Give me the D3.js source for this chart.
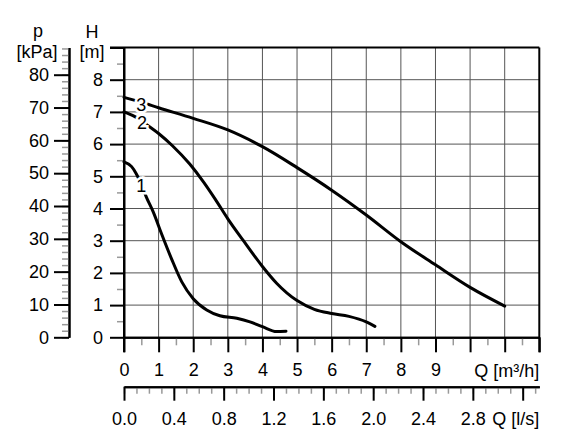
<!DOCTYPE html>
<html>
<head>
<meta charset="utf-8">
<script src="https://cdn.jsdelivr.net/npm/d3@7"></script>
<style>
  body { margin: 0; background: #fff; }
  svg text { font-family: "Liberation Sans", Arial, sans-serif; font-size: 18px; fill: #000; }
</style>
</head>
<body>
<svg id="chart" width="575" height="448"></svg>
<script>
// pump curves, Q in m3/h, H in m
var curve1Q = [0, 0.22, 0.35, 0.5, 0.64, 0.85, 1.09, 1.38, 1.67, 2.0, 2.39, 2.77, 3.26, 3.64, 4.0, 4.41, 4.68];
var curve1H = [5.45, 5.3, 5.09, 4.75, 4.37, 3.88, 3.2, 2.42, 1.72, 1.2, 0.85, 0.67, 0.59, 0.48, 0.33, 0.18, 0.19];
var curve2Q = [0, 0.3, 0.66, 1.0, 1.4, 1.9, 2.3, 2.63, 3.0, 3.45, 4.0, 4.41, 5.0, 5.5, 6.0, 6.5, 7.0, 7.25];
var curve2H = [7.0, 6.86, 6.6, 6.33, 5.95, 5.38, 4.82, 4.3, 3.68, 3.0, 2.2, 1.68, 1.14, 0.87, 0.74, 0.65, 0.48, 0.34];
var curve3Q = [0, 0.5, 1, 2, 3, 4, 5, 6, 7, 8, 9, 10, 11];
var curve3H = [7.45, 7.3, 7.13, 6.8, 6.44, 5.92, 5.27, 4.57, 3.80, 2.97, 2.25, 1.55, 0.97];
var curveNames = ["1", "2", "3"];
var labelQ = [0.5, 0.52, 0.5];
var labelH = [4.72, 6.65, 7.22];

var qTicks = d3.range(0, 13);          // m3/h
var qLabels = d3.range(0, 10);
var lsTicks = d3.range(0, 9).map(function(i) { return i * 0.4; });  // l/s
var lsLabels = d3.range(0, 8).map(function(i) { return i * 0.4; });
var hTicks = d3.range(0, 10);          // m
var hLabels = d3.range(0, 9);
var pTicks = d3.range(0, 90, 10);      // kPa

var svg = d3.select("#chart");

var pLeft = 124, pRight = 539.3, pTop = 47.5, pBottom = 337.3;
var x = d3.scaleLinear().domain([0, 12]).range([pLeft, pRight]);
var xl = d3.scaleLinear().domain([0, 12 / 3.6]).range([pLeft, pRight]);
var y = d3.scaleLinear().domain([0, 9]).range([pBottom, pTop]);
var yp = d3.scaleLinear().domain([0, 9 * 9.81]).range([pBottom, pTop]);

svg.append("rect").attr("width", 575).attr("height", 448).attr("fill", "#fff");

// grid
var grid = svg.append("g").attr("stroke", "#555").attr("stroke-width", 1);
grid.selectAll(".gx").data(d3.range(1, 12)).enter().append("line")
    .attr("x1", function(d) { return x(d); }).attr("x2", function(d) { return x(d); })
    .attr("y1", pTop).attr("y2", pBottom);
grid.selectAll(".gy").data(d3.range(1, 9)).enter().append("line")
    .attr("x1", pLeft).attr("x2", pRight)
    .attr("y1", function(d) { return y(d); }).attr("y2", function(d) { return y(d); });

// frame top / right
svg.append("line").attr("x1", pLeft - 14).attr("x2", pRight).attr("y1", pTop).attr("y2", pTop)
    .attr("stroke", "#000").attr("stroke-width", 2);
svg.append("line").attr("x1", pRight).attr("x2", pRight).attr("y1", pTop).attr("y2", pBottom + 15)
    .attr("stroke", "#000").attr("stroke-width", 2);

function styleAxis(g, col, w) {
  g.select(".domain").attr("stroke", "#000").attr("stroke-width", 2);
  g.selectAll(".tick line").attr("stroke", col).attr("stroke-width", w);
  g.attr("font-size", null).attr("font-family", null);
}

// Q m3/h axis
var gq = svg.append("g").attr("transform", "translate(0," + pBottom + ")");
gq.call(d3.axisBottom(x).tickValues(d3.range(0.5, 12, 1)).tickSize(8).tickSizeOuter(0).tickFormat(""));
styleAxis(gq, "#999", 1.5);
var gq2 = svg.append("g").attr("transform", "translate(0," + pBottom + ")");
gq2.call(d3.axisBottom(x).tickValues(qTicks).tickSize(15).tickSizeOuter(0)
    .tickFormat(function(d) { return qLabels.indexOf(d) >= 0 ? d : ""; }));
styleAxis(gq2, "#000", 2);
gq2.selectAll(".tick text").attr("y", 26).attr("dy", "0.71em");
svg.append("text").attr("x", pRight).attr("y", 376.5).attr("text-anchor", "end").text("Q [m³/h]");

// Q l/s axis
var lsY = 386.7;
var gl = svg.append("g").attr("transform", "translate(0," + lsY + ")");
gl.call(d3.axisBottom(xl).tickValues(d3.range(0, 34).map(function(i) { return i * 0.1; }))
    .tickSize(7).tickSizeOuter(0).tickFormat(""));
styleAxis(gl, "#999", 1.5);
var gl2 = svg.append("g").attr("transform", "translate(0," + lsY + ")");
gl2.call(d3.axisBottom(xl).tickValues(lsTicks).tickSize(14).tickSizeOuter(0)
    .tickFormat(function(d, i) { return i < lsLabels.length ? d3.format(".1f")(d) : ""; }));
styleAxis(gl2, "#000", 2);
gl2.selectAll(".tick text").attr("y", 25.5).attr("dy", "0.71em");
svg.append("text").attr("x", pRight).attr("y", 425).attr("text-anchor", "end").text("Q [l/s]");

// H axis
var gh = svg.append("g").attr("transform", "translate(" + pLeft + ",0)");
gh.call(d3.axisLeft(y).tickValues(d3.range(0.5, 9, 1)).tickSize(7).tickSizeOuter(0).tickFormat(""));
styleAxis(gh, "#999", 1.5);
var gh2 = svg.append("g").attr("transform", "translate(" + pLeft + ",0)");
gh2.call(d3.axisLeft(y).tickValues(hTicks).tickSize(14).tickSizeOuter(0)
    .tickFormat(function(d) { return hLabels.indexOf(d) >= 0 ? d : ""; }));
styleAxis(gh2, "#000", 2);
gh2.selectAll(".tick text").attr("x", -21);
gh2.select(".domain").attr("d", "M0," + pTop + "V" + (pBottom + 15));
svg.append("text").attr("x", 92).attr("y", 38).attr("text-anchor", "middle").text("H");
svg.append("text").attr("x", 92).attr("y", 58).attr("text-anchor", "middle").text("[m]");

// p axis
var px = 69;
var gp = svg.append("g").attr("transform", "translate(" + px + ",0)");
gp.call(d3.axisLeft(yp).tickValues(d3.range(0, 90, 2)).tickSize(7).tickSizeOuter(0).tickFormat(""));
styleAxis(gp, "#999", 1.5);
var gp2 = svg.append("g").attr("transform", "translate(" + px + ",0)");
gp2.call(d3.axisLeft(yp).tickValues(pTicks).tickSize(15).tickSizeOuter(0));
styleAxis(gp2, "#000", 2);
gp2.selectAll(".tick text").attr("x", -20);
svg.append("text").attr("x", 38).attr("y", 37).attr("text-anchor", "middle").text("p");
svg.append("text").attr("x", 37).attr("y", 58).attr("text-anchor", "middle").text("[kPa]");

// curves
var line = d3.line()
    .x(function(d) { return x(d[0]); })
    .y(function(d) { return y(d[1]); })
    .curve(d3.curveMonotoneX);
var curves = [
  d3.zip(curve1Q, curve1H),
  d3.zip(curve2Q, curve2H),
  d3.zip(curve3Q, curve3H)
];
svg.append("g").selectAll("path").data(curves).enter().append("path")
    .attr("d", line)
    .attr("fill", "none")
    .attr("stroke", "#000")
    .attr("stroke-width", 3)
    .attr("stroke-linecap", "round");

svg.append("g").selectAll("text").data(curveNames).enter().append("text")
    .attr("x", function(d, i) { return x(labelQ[i]); })
    .attr("y", function(d, i) { return y(labelH[i]); })
    .attr("dy", "0.35em")
    .attr("text-anchor", "middle")
    .attr("stroke", "#fff")
    .attr("stroke-width", 5)
    .attr("paint-order", "stroke")
    .text(function(d) { return d; });
</script>
</body>
</html>
